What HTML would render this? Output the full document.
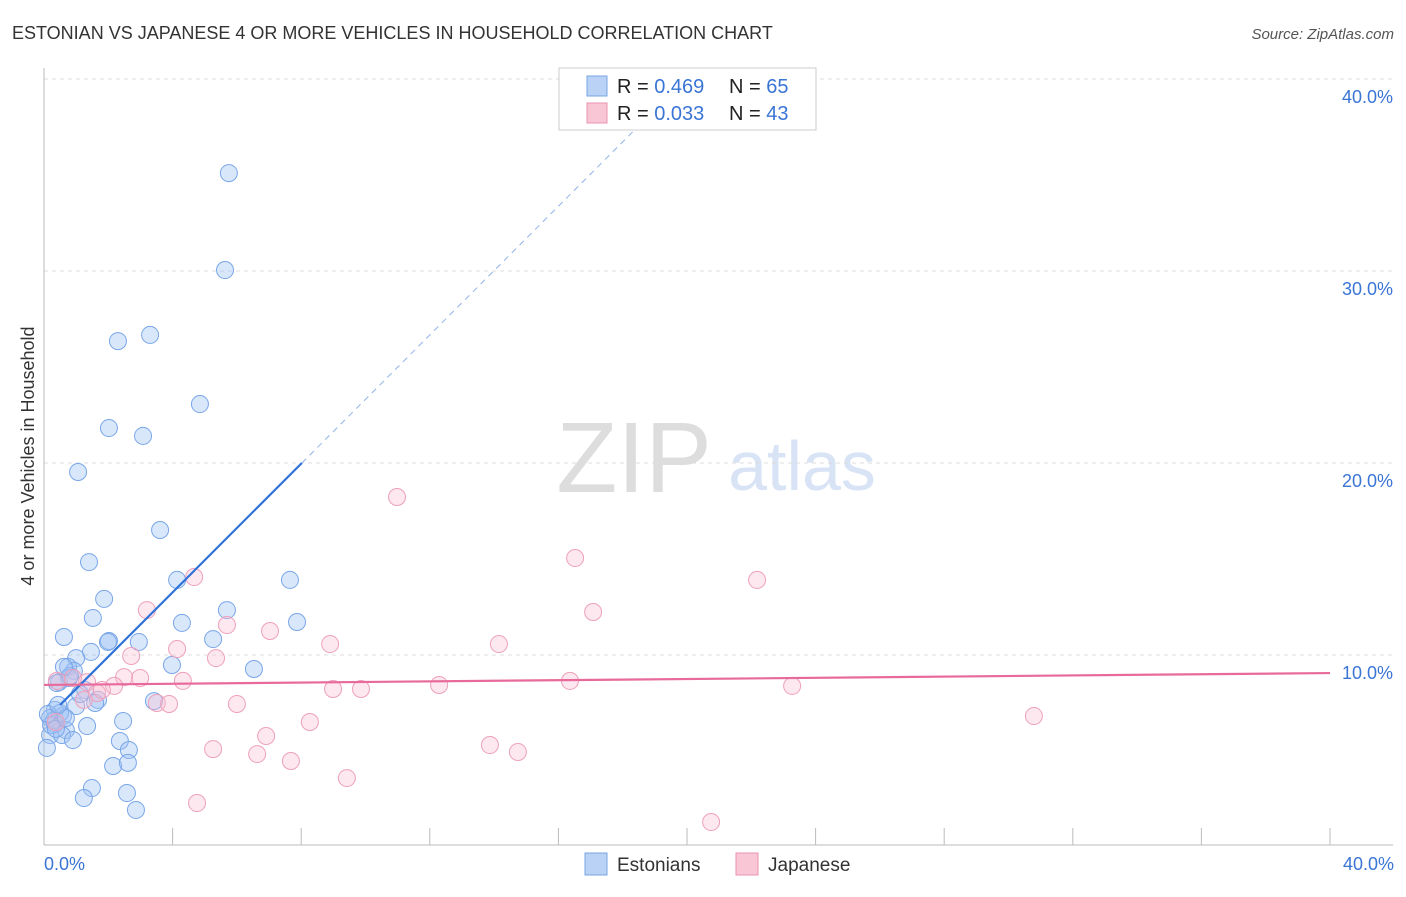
<!DOCTYPE html>
<html><head><meta charset="utf-8"><style>
body{margin:0;background:#fff;font-family:"Liberation Sans",sans-serif}
svg text{font-family:"Liberation Sans",sans-serif}
</style></head><body>
<svg id="c" width="1406" height="892" xmlns="http://www.w3.org/2000/svg">
<text x="12" y="39" font-size="18" fill="#333">ESTONIAN VS JAPANESE 4 OR MORE VEHICLES IN HOUSEHOLD CORRELATION CHART</text>
<text x="1394" y="39" font-size="15" fill="#555" text-anchor="end" font-style="italic">Source: ZipAtlas.com</text>
<text transform="translate(34,456) rotate(-90)" font-size="18" fill="#333" text-anchor="middle">4 or more Vehicles in Household</text>
<text x="634" y="492" font-size="100" fill="#ddd" font-family="Liberation Serif" text-anchor="middle">ZIP</text>
<text x="802" y="490" font-size="70" fill="#d8e4f6" text-anchor="middle">atlas</text>
<g id="grid"></g><g id="pts"></g><g id="lines"></g>
<rect x="559" y="68" width="257" height="62" fill="#fff" stroke="#ccc"/>
<rect x="587" y="76" width="20" height="20" fill="#b9d2f5" stroke="#7aa5e5"/>
<rect x="587" y="103" width="20" height="20" fill="#f9c6d6" stroke="#eb94b1"/>
<text x="617" y="93" font-size="20" fill="#222">R = <tspan fill="#3a75d6">0.469</tspan></text>
<text x="729" y="93" font-size="20" fill="#222">N = <tspan fill="#3a75d6">65</tspan></text>
<text x="617" y="120" font-size="20" fill="#222">R = <tspan fill="#3a75d6">0.033</tspan></text>
<text x="729" y="120" font-size="20" fill="#222">N = <tspan fill="#3a75d6">43</tspan></text>
<rect x="585" y="853" width="22" height="22" fill="#b9d2f5" stroke="#7aa5e5"/>
<text x="617" y="871" font-size="19" fill="#333">Estonians</text>
<rect x="736" y="853" width="22" height="22" fill="#f9c6d6" stroke="#eb94b1"/>
<text x="768" y="871" font-size="19" fill="#333">Japanese</text>
<text x="44" y="870" font-size="18" fill="#3a75d6">0.0%</text>
<text x="1394" y="870" font-size="18" fill="#3a75d6" text-anchor="end">40.0%</text>
</svg>
<script>
const yTicks=[10,20,30,40];
const xTickVals=[0,4,8,12,16,20,24,28,32,36,40];
const bluePx=[[229,173],[225,270],[118,341],[150,335],[200,404],[109,428],[143,436],[78,472],[160,530],[89,562],[177,580],[290,580],[104,599],[227,610],[93,618],[182,623],[297,622],[64,637],[109,641],[139,642],[213,639],[91,652],[76,658],[172,665],[254,669],[68,667],[74,671],[59,682],[69,678],[85,690],[98,700],[154,701],[95,703],[76,706],[55,710],[63,716],[50,718],[55,724],[66,730],[87,726],[123,721],[50,735],[62,735],[73,740],[120,741],[129,750],[113,766],[128,763],[92,788],[127,793],[84,798],[136,810],[47,748],[54,720],[60,713],[57,683],[70,676],[64,667],[51,725],[48,714],[56,729],[108,642],[66,718],[58,705],[80,694]];
const pinkPx=[[397,497],[575,558],[757,580],[194,577],[593,612],[147,610],[227,625],[270,631],[330,644],[499,644],[177,649],[131,656],[216,658],[124,677],[140,678],[183,681],[333,689],[361,689],[439,685],[570,681],[792,686],[57,681],[87,682],[114,686],[97,693],[157,703],[169,704],[237,704],[310,722],[266,736],[1034,716],[213,749],[257,754],[490,745],[518,752],[291,761],[347,778],[197,803],[711,822],[56,722],[73,678],[102,690],[84,700]];
const estX=bluePx.map(p=>+((p[0]-44)/32.15).toFixed(2));
const estY=bluePx.map(p=>+((847-p[1])/19.2).toFixed(2));
const japX=pinkPx.map(p=>+((p[0]-44)/32.15).toFixed(2));
const japY=pinkPx.map(p=>+((847-p[1])/19.2).toFixed(2));
const estTrend=[6.56,20.0];const estTrendX=[0.5,8.02];
const japTrend=[8.44,9.06];
const X=v=>44+v*32.15, Y=v=>847-v*19.2;
const NS="http://www.w3.org/2000/svg";
function mk(t,a,p){const e=document.createElementNS(NS,t);for(const k in a)e.setAttribute(k,a[k]);p.appendChild(e);return e;}
const g=document.getElementById('grid');
yTicks.forEach(v=>{
 const l=mk('line',{x1:44,x2:1393,y1:Y(v),y2:Y(v),stroke:'#ddd','stroke-dasharray':'4,4'},g);
 
 
 const t=mk('text',{x:1393,y:Y(v)+24,'font-size':18,fill:'#3a75d6','text-anchor':'end'},g);t.textContent=v.toFixed(1)+'%';
 
 
});
const ax=mk('line',{x1:44,x2:1393,y1:845,y2:845,stroke:'#bbb'},g);


const ay=mk('line',{x1:44,x2:44,y1:68,y2:845,stroke:'#bbb'},g);


xTickVals.forEach(v=>{const t=mk('line',{x1:X(v),x2:X(v),y1:828,y2:845,stroke:'#bbb'},g);
 
 });
const pg=document.getElementById('pts');
estX.forEach((x,i)=>{const c=mk('circle',{cx:X(x),cy:Y(estY[i]),r:8.5,fill:'rgba(160,195,245,0.4)',stroke:'#79a6e8','stroke-width':1},pg);
 
 });
japX.forEach((x,i)=>{const c=mk('circle',{cx:X(x),cy:Y(japY[i]),r:8.5,fill:'rgba(248,190,210,0.35)',stroke:'#eea0bb','stroke-width':1},pg);
 
 });
const lg=document.getElementById('lines');
const slope=(estTrend[1]-estTrend[0])/estTrendX[1];
const b1=mk('line',{x1:X(estTrendX[0]),y1:Y(estTrend[0]+slope*estTrendX[0]),x2:X(estTrendX[1]),y2:Y(estTrend[1]),stroke:'#2f72d8','stroke-width':2.2},lg);


const xe=18.5;
const b2=mk('line',{x1:X(estTrendX[1]),y1:Y(estTrend[1]),x2:X(xe),y2:Y(estTrend[0]+slope*xe),stroke:'#8fb3e8','stroke-width':1,'stroke-dasharray':'6,5'},lg);


const p1=mk('line',{x1:X(0),y1:Y(japTrend[0]),x2:X(40),y2:Y(japTrend[1]),stroke:'#e86a9a','stroke-width':2.2},lg);


</script>
</body></html>
